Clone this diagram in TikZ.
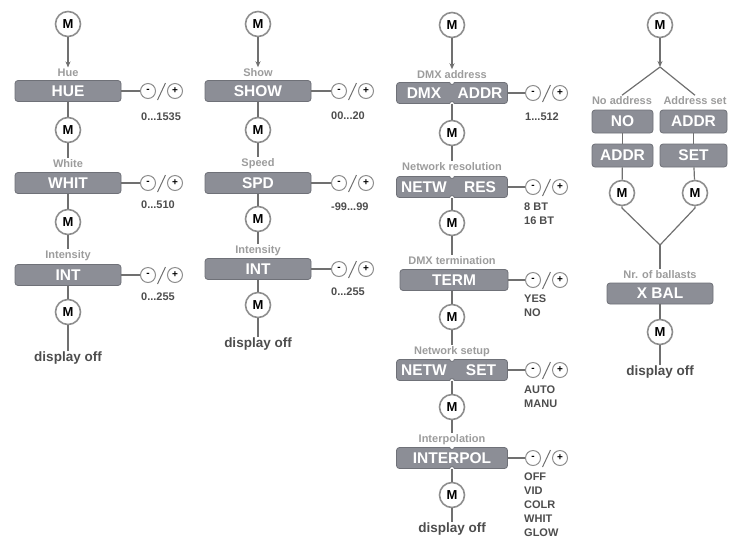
\documentclass[tikz,border=0pt]{standalone}
\usepackage{fontspec}
\setmainfont{Liberation Sans}
\usetikzlibrary{arrows.meta}
\definecolor{boxgray}{HTML}{8C8E96}
\definecolor{edgegray}{HTML}{6F7178}
\definecolor{ringgray}{HTML}{8E8E8E}
\definecolor{capgray}{HTML}{9C9C9C}
\definecolor{textgray}{HTML}{4D4D4D}
\definecolor{linegray}{HTML}{707070}
\newcommand\sz[1]{\fontsize{#1}{#1}\selectfont}
\tikzset{
  mbtn/.style={draw=ringgray, circle, line width=1.6pt, fill=white, minimum size=25pt, inner sep=0pt, font=\bfseries\sz{13}},
  menubox/.style={draw=edgegray, fill=boxgray, line width=0.8pt, rounded corners=3pt, minimum width=106pt, minimum height=21pt, inner sep=0pt, text=white, font=\bfseries\sz{15.5}},
  halftext/.style={text=white, inner sep=0pt, font=\bfseries\sz{15.5}},
  boxcap/.style={text=capgray, inner sep=1.5pt, font=\bfseries\sz{11}},
  pmbtn/.style={draw=ringgray, circle, line width=1pt, fill=white, minimum size=15pt, inner sep=0pt, font=\bfseries\sz{10}},
  vals/.style={text=textgray, anchor=north west, inner sep=0pt, align=left, font=\bfseries\fontsize{11}{13.8}\selectfont},
  offtext/.style={text=textgray, inner sep=1pt, font=\bfseries\sz{13.5}},
  link/.style={draw=linegray, line width=1.2pt},
  slash/.style={draw=linegray, line width=1pt},
  notch/.style={draw=edgegray, line width=0.8pt},
}
\begin{document}
\begin{tikzpicture}[x=1pt,y=-1pt]
        \useasboundingbox (0,0) rectangle (743,550);

        % hue / white / intensity
        \node[mbtn] (m1a) at (68,24) {M};
        \node[boxcap] (c1a) at (68,73) {Hue};
        \node[menubox] (b1a) at (68,91) {HUE};
        \node[pmbtn] (n1a) at (148,91) {-};
        \node[pmbtn] (p1a) at (175,91) {+};
        \node[vals] (v1a) at (141,113) {0...1535};
        \node[mbtn] (m1b) at (68,130) {M};
        \node[boxcap] (c1b) at (68,164) {White};
        \node[menubox] (b1b) at (68,183) {WHIT};
        \node[pmbtn] (n1b) at (148,183) {-};
        \node[pmbtn] (p1b) at (175,183) {+};
        \node[vals] (v1b) at (141,201) {0...510};
        \node[mbtn] (m1c) at (68,222) {M};
        \node[boxcap] (c1c) at (68,256) {Intensity};
        \node[menubox] (b1c) at (68,275) {INT};
        \node[pmbtn] (n1c) at (148,275) {-};
        \node[pmbtn] (p1c) at (175,275) {+};
        \node[vals] (v1c) at (141,293) {0...255};
        \node[mbtn] (m1d) at (68,312) {M};
        \node[offtext] (o1) at (68,358) {display off};
        \path[link,-{Stealth[length=6pt,width=5pt]}] (m1a) -- (c1a);
        \path[link] (b1a) -- (m1b);
        \path[link] (m1b) -- (c1b);
        \path[link] (b1b) -- (m1c);
        \path[link] (m1c) -- (c1c);
        \path[link] (b1c) -- (m1d);
        \path[link] (m1d) -- (o1);
        \path[link] (b1a) -- (n1a);
        \path[link] (b1b) -- (n1b);
        \path[link] (b1c) -- (n1c);
        \path[slash] ([shift={(1.5pt,-9pt)}]n1a.east) -- ([shift={(9.5pt,8pt)}]n1a.east);
        \path[slash] ([shift={(1.5pt,-9pt)}]n1b.east) -- ([shift={(9.5pt,8pt)}]n1b.east);
        \path[slash] ([shift={(1.5pt,-9pt)}]n1c.east) -- ([shift={(9.5pt,8pt)}]n1c.east);

        % show / speed / intensity
        \node[mbtn] (m2a) at (258,24) {M};
        \node[boxcap] (c2a) at (258,73) {Show};
        \node[menubox] (b2a) at (258,91) {SHOW};
        \node[pmbtn] (n2a) at (339,91) {-};
        \node[pmbtn] (p2a) at (366,91) {+};
        \node[vals] (v2a) at (331,112) {00...20};
        \node[mbtn] (m2b) at (258,130) {M};
        \node[boxcap] (c2b) at (258,164) {Speed};
        \node[menubox] (b2b) at (258,183) {SPD};
        \node[pmbtn] (n2b) at (339,183) {-};
        \node[pmbtn] (p2b) at (366,183) {+};
        \node[vals] (v2b) at (331,203) {-99...99};
        \node[mbtn] (m2c) at (258,219) {M};
        \node[boxcap] (c2c) at (258,251) {Intensity};
        \node[menubox] (b2c) at (258,269) {INT};
        \node[pmbtn] (n2c) at (339,269) {-};
        \node[pmbtn] (p2c) at (366,269) {+};
        \node[vals] (v2c) at (331,288) {0...255};
        \node[mbtn] (m2d) at (258,305) {M};
        \node[offtext] (o2) at (258,344) {display off};
        \path[link,-{Stealth[length=6pt,width=5pt]}] (m2a) -- (c2a);
        \path[link] (b2a) -- (m2b);
        \path[link] (m2b) -- (c2b);
        \path[link] (b2b) -- (m2c);
        \path[link] (m2c) -- (c2c);
        \path[link] (b2c) -- (m2d);
        \path[link] (m2d) -- (o2);
        \path[link] (b2a) -- (n2a);
        \path[link] (b2b) -- (n2b);
        \path[link] (b2c) -- (n2c);
        \path[slash] ([shift={(1.5pt,-9pt)}]n2a.east) -- ([shift={(9.5pt,8pt)}]n2a.east);
        \path[slash] ([shift={(1.5pt,-9pt)}]n2b.east) -- ([shift={(9.5pt,8pt)}]n2b.east);
        \path[slash] ([shift={(1.5pt,-9pt)}]n2c.east) -- ([shift={(9.5pt,8pt)}]n2c.east);

        % dmx / network
        \node[mbtn] (m3a) at (452,25) {M};
        \node[boxcap] (c3a) at (452,75) {DMX address};
        \node[menubox,minimum width=111pt] (b3a) at (452,93) {};
        \node[halftext] (l3a) at (424,93) {DMX};
        \node[halftext] (r3a) at (480,93) {ADDR};
        \node[pmbtn] (n3a) at (533,93) {-};
        \node[pmbtn] (p3a) at (560,93) {+};
        \node[vals] (v3a) at (525,113) {1...512};
        \node[mbtn] (m3b) at (452,133) {M};
        \node[boxcap] (c3b) at (452,167) {Network resolution};
        \node[menubox,minimum width=111pt] (b3b) at (452,187) {};
        \node[halftext] (l3b) at (424,187) {NETW};
        \node[halftext] (r3b) at (480,187) {RES};
        \node[pmbtn] (n3b) at (533,187) {-};
        \node[pmbtn] (p3b) at (560,187) {+};
        \node[vals] (v3b) at (524,203) {8 BT\\16 BT};
        \node[mbtn] (m3c) at (452,223) {M};
        \node[boxcap] (c3c) at (452,261) {DMX termination};
        \node[menubox,minimum width=108pt] (b3c) at (454,280) {TERM};
        \node[pmbtn] (n3c) at (533,280) {-};
        \node[pmbtn] (p3c) at (560,280) {+};
        \node[vals] (v3c) at (524,295) {YES\\NO};
        \node[mbtn] (m3d) at (452,317) {M};
        \node[boxcap] (c3d) at (452,352) {Network setup};
        \node[menubox,minimum width=111pt] (b3d) at (452,370) {};
        \node[halftext] (l3d) at (424,370) {NETW};
        \node[halftext] (r3d) at (481,370) {SET};
        \node[pmbtn] (n3d) at (533,370) {-};
        \node[pmbtn] (p3d) at (560,370) {+};
        \node[vals] (v3d) at (524,386) {AUTO\\MANU};
        \node[mbtn] (m3e) at (452,407) {M};
        \node[boxcap] (c3e) at (452,440) {Interpolation};
        \node[menubox,minimum width=111pt] (b3e) at (452,458) {INTERPOL};
        \node[pmbtn] (n3e) at (533,458) {-};
        \node[pmbtn] (p3e) at (560,458) {+};
        \node[vals] (v3e) at (524,473) {OFF\\VID\\COLR\\WHIT\\GLOW};
        \node[mbtn] (m3f) at (452,495) {M};
        \node[offtext] (o3) at (452,529) {display off};
        \foreach \b in {b3a,b3b,b3d,b3e} {
            \fill[white] (\b.north) circle (2.4pt);
            \fill[white] (\b.south) circle (2.4pt);
            \path[notch] ([xshift=-2.4pt]\b.north) arc[start angle=180,end angle=360,radius=2.4pt];
            \path[notch] ([xshift=-2.4pt]\b.south) arc[start angle=180,end angle=0,radius=2.4pt];
        }
        \path[link,-{Stealth[length=6pt,width=5pt]}] (m3a) -- (c3a);
        \path[link] (b3a) -- (m3b);
        \path[link] (m3b) -- (c3b);
        \path[link] (b3b) -- (m3c);
        \path[link] (m3c) -- (c3c);
        \path[link] (b3c.south -| m3d) -- (m3d);
        \path[link] (m3d) -- (c3d);
        \path[link] (b3d) -- (m3e);
        \path[link] (m3e) -- (c3e);
        \path[link] (b3e) -- (m3f);
        \path[link] (m3f) -- (o3);
        \path[link] (b3a) -- (n3a);
        \path[link] (b3b) -- (n3b);
        \path[link] (b3c) -- (n3c);
        \path[link] (b3d) -- (n3d);
        \path[link] (b3e) -- (n3e);
        \path[slash] ([shift={(1.5pt,-9pt)}]n3a.east) -- ([shift={(9.5pt,8pt)}]n3a.east);
        \path[slash] ([shift={(1.5pt,-9pt)}]n3b.east) -- ([shift={(9.5pt,8pt)}]n3b.east);
        \path[slash] ([shift={(1.5pt,-9pt)}]n3c.east) -- ([shift={(9.5pt,8pt)}]n3c.east);
        \path[slash] ([shift={(1.5pt,-9pt)}]n3d.east) -- ([shift={(9.5pt,8pt)}]n3d.east);
        \path[slash] ([shift={(1.5pt,-9pt)}]n3e.east) -- ([shift={(9.5pt,8pt)}]n3e.east);

        % ballasts
        \node[mbtn] (m4a) at (660,25) {M};
        \coordinate (f4) at (660,67);
        \node[boxcap] (c4a) at (622,101) {No address};
        \node[boxcap] (c4b) at (695,101) {Address set};
        \node[menubox,minimum width=61pt,minimum height=23pt] (b4a) at (622.5,121.5) {NO};
        \node[menubox,minimum width=67pt,minimum height=23pt] (b4b) at (693.5,121.5) {ADDR};
        \node[menubox,minimum width=61pt,minimum height=23pt] (b4c) at (622.5,155.5) {ADDR};
        \node[menubox,minimum width=67pt,minimum height=23pt] (b4d) at (693.5,155.5) {SET};
        \node[mbtn] (m4b) at (622,193) {M};
        \node[mbtn] (m4c) at (695,193) {M};
        \coordinate (k4b) at (622,208);
        \coordinate (k4c) at (695,208);
        \coordinate (j4) at (660,245);
        \node[boxcap] (c4e) at (660,275) {Nr. of ballasts};
        \node[menubox] (b4e) at (660,293.5) {X BAL};
        \node[mbtn] (m4d) at (660,332) {M};
        \node[offtext] (o4) at (660,372) {display off};
        \path[link,-{Stealth[length=6pt,width=5pt]}] (m4a) -- (f4);
        \path[link] (f4) -- (c4a.north);
        \path[link] (f4) -- (c4b.north);
        \path[link] (b4a) -- (b4c);
        \path[link] (b4b) -- (b4d);
        \path[link] (b4c) -- (m4b);
        \path[link] (b4d) -- (m4c);
        \path[link] (m4b) -- (k4b) -- (j4);
        \path[link] (m4c) -- (k4c) -- (j4);
        \path[link] (j4) -- (c4e);
        \path[link] (b4e) -- (m4d);
        \path[link] (m4d) -- (o4);
    \end{tikzpicture}
\end{document}
